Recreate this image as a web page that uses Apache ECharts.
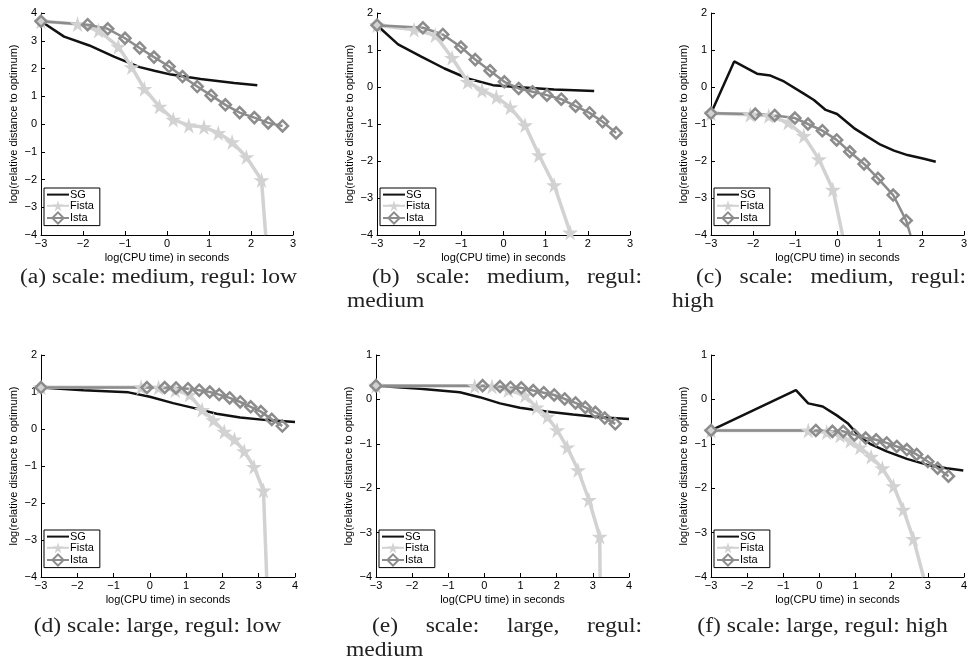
<!DOCTYPE html>
<html>
<head>
<meta charset="utf-8">
<script src="https://cdn.jsdelivr.net/npm/echarts@6/dist/echarts.min.js"></script>
<style>
html, body { margin: 0; background: #fff; }
#main { width: 978px; height: 662px; }
</style>
</head>
<body>
<div id="main"></div>
<script>
// values, [log cpu time, log relative distance]
var aSG = [[-3,3.7],[-2.45,3.15],[-1.85,2.83],[-1.25,2.42],[-0.65,2.05],[-0.3,1.92],[0.1,1.78],[0.8,1.62],[1.6,1.48],[2.15,1.4]];
var aFista = [[-3,3.7],[-2.13,3.6],[-1.63,3.37],[-1.16,2.79],[-0.84,2.05],[-0.54,1.27],[-0.18,0.63],[0.15,0.16],[0.52,-0.05],[0.88,-0.11],[1.22,-0.32],[1.55,-0.65],[1.89,-1.19],[2.25,-2.02],[2.35,-4]];
var aIsta = [[-3,3.7],[-1.89,3.58],[-1.41,3.43],[-1,3.09],[-0.65,2.74],[-0.31,2.41],[0.05,2.07],[0.37,1.71],[0.72,1.35],[1.05,1.03],[1.39,0.69],[1.73,0.41],[2.08,0.23],[2.41,0.04],[2.75,-0.07]];

var bSG = [[-3,1.67],[-2.5,1.15],[-1.95,0.82],[-1.4,0.5],[-0.85,0.23],[-0.25,0.05],[0.4,-0.01],[1.2,-0.07],[2.15,-0.11]];
var bFista = [[-3,1.67],[-2.12,1.55],[-1.62,1.4],[-1.22,0.79],[-0.85,0.14],[-0.51,-0.09],[-0.17,-0.27],[0.16,-0.55],[0.51,-1.03],[0.84,-1.84],[1.2,-2.65],[1.58,-3.93]];
var bIsta = [[-3,1.67],[-1.91,1.6],[-1.44,1.42],[-1.01,1.08],[-0.67,0.74],[-0.32,0.44],[0.02,0.14],[0.36,-0.04],[0.69,-0.13],[1.03,-0.22],[1.37,-0.33],[1.71,-0.52],[2.04,-0.7],[2.35,-0.94],[2.67,-1.24]];

var cSG = [[-3,-0.71],[-2.45,0.69],[-1.91,0.36],[-1.59,0.31],[-1.27,0.15],[-0.8,-0.18],[-0.56,-0.35],[-0.28,-0.62],[-0.01,-0.73],[0.39,-1.11],[0.71,-1.34],[1.02,-1.56],[1.34,-1.72],[1.66,-1.84],[2.05,-1.94],[2.33,-2.02]];
var cFista = [[-3,-0.71],[-2.07,-0.75],[-1.63,-0.78],[-1.17,-0.96],[-0.8,-1.32],[-0.44,-1.95],[-0.11,-2.77],[0.12,-4]];
var cIsta = [[-3,-0.71],[-1.95,-0.73],[-1.49,-0.77],[-1.01,-0.84],[-0.7,-1.0],[-0.36,-1.18],[-0.02,-1.43],[0.29,-1.75],[0.63,-2.08],[0.96,-2.47],[1.32,-2.92],[1.63,-3.61],[1.73,-4]];

var dSG = [[-3,1.12],[-1.83,1.05],[-0.59,0.99],[0,0.87],[0.64,0.7],[1.28,0.55],[1.84,0.41],[2.49,0.31],[3.22,0.24],[4,0.19]];
var dFista = [[-3,1.13],[-0.24,1.13],[0.24,1.12],[0.7,1.05],[1.09,0.93],[1.44,0.52],[1.75,0.24],[2.05,-0.07],[2.33,-0.28],[2.6,-0.6],[2.87,-1.02],[3.13,-1.66],[3.22,-4]];
var dIsta = [[-3,1.12],[-0.08,1.12],[0.41,1.12],[0.72,1.11],[1.05,1.09],[1.36,1.05],[1.65,1.0],[1.91,0.93],[2.2,0.84],[2.49,0.73],[2.78,0.6],[3.06,0.47],[3.36,0.26],[3.65,0.08]];

var eSG = [[-3,0.31],[-1.78,0.24],[-0.68,0.16],[-0.13,0.05],[0.43,-0.09],[0.98,-0.19],[1.71,-0.27],[2.45,-0.34],[3.19,-0.4],[4,-0.44]];
var eFista = [[-3,0.31],[-0.27,0.3],[0.21,0.29],[0.66,0.21],[1.12,0.09],[1.44,-0.18],[1.74,-0.39],[2.01,-0.69],[2.29,-1.08],[2.59,-1.59],[2.89,-2.26],[3.19,-3.09],[3.2,-4]];
var eIsta = [[-3,0.31],[-0.05,0.31],[0.43,0.29],[0.72,0.27],[1.02,0.26],[1.35,0.2],[1.64,0.15],[1.93,0.1],[2.22,0.01],[2.52,-0.08],[2.79,-0.18],[3.07,-0.29],[3.33,-0.42],[3.62,-0.55]];

var fSG = [[-3,-0.7],[-0.65,0.21],[-0.31,-0.09],[0.09,-0.16],[0.48,-0.36],[0.8,-0.55],[1.11,-0.84],[1.4,-1.0],[1.86,-1.17],[2.42,-1.34],[2.97,-1.47],[3.52,-1.55],[3.98,-1.6]];
var fFista = [[-3,-0.7],[-0.31,-0.7],[0.2,-0.74],[0.57,-0.81],[0.85,-0.93],[1.12,-1.08],[1.43,-1.29],[1.74,-1.55],[2.05,-1.95],[2.32,-2.48],[2.6,-3.14],[2.88,-4]];
var fIsta = [[-3,-0.7],[-0.1,-0.7],[0.36,-0.72],[0.66,-0.72],[0.97,-0.8],[1.28,-0.87],[1.57,-0.91],[1.86,-0.98],[2.14,-1.06],[2.42,-1.13],[2.69,-1.24],[3.0,-1.4],[3.27,-1.55],[3.57,-1.73]];

var seriesNames = ['SG', 'Fista', 'Ista'];
var yMaxes = [4, 2, 2, 2, 1, 1];
var xMaxes = [3, 3, 3, 4, 4, 4];
var captions = [
    ['(a) scale: medium, regul: low'],
    ['(b) scale: medium, regul:', 'medium'],
    ['(c) scale: medium, regul:', 'high'],
    ['(d) scale: large, regul: low'],
    ['(e) scale: large, regul:', 'medium'],
    ['(f) scale: large, regul: high']
];

var panelData = [
    [aSG, aFista, aIsta], [bSG, bFista, bIsta], [cSG, cFista, cIsta],
    [dSG, dFista, dIsta], [eSG, eFista, eIsta], [fSG, fFista, fIsta]
];

var SANS = '"Liberation Sans", Arial, sans-serif';
var SERIF = '"Liberation Serif", "Times New Roman", serif';
var CAP_SIZE = 20;
var STAR = 'path://M50,0 L61,35 L98,35 L68,57 L79,91 L50,70 L21,91 L32,57 L2,35 L39,35 Z';
var Y_MIN = -4, X_MIN = -3;

// plot boxes
var grids = [
    {left: 41, top: 13, width: 252, height: 222},
    {left: 377, top: 13, width: 253, height: 222},
    {left: 711, top: 13, width: 253, height: 222},
    {left: 41, top: 355, width: 254, height: 222},
    {left: 376, top: 355, width: 253, height: 222},
    {left: 711, top: 355, width: 253, height: 222}
];

function minus(v) {
    return v < 0 ? '\u2212' + (-v) : String(v);
}

var option = {
    backgroundColor: '#fff',
    animation: false,
    grid: [], xAxis: [], yAxis: [], legend: [], series: [], graphic: []
};

grids.forEach(function (g, i) {
    option.grid.push({left: g.left, top: g.top, width: g.width, height: g.height});
    option.xAxis.push({
        type: 'value', gridIndex: i, min: X_MIN, max: xMaxes[i], interval: 1,
        name: 'log(CPU time) in seconds', nameLocation: 'middle', nameGap: 17,
        nameTextStyle: {fontFamily: SANS, fontSize: 11, color: '#000'},
        axisLine: {onZero: false, lineStyle: {color: '#000', width: 1}},
        axisTick: {inside: true, length: 4, lineStyle: {color: '#000'}},
        axisLabel: {formatter: minus, fontFamily: SANS, fontSize: 11, color: '#000', margin: 3},
        splitLine: {show: false}
    });
    option.yAxis.push({
        type: 'value', gridIndex: i, min: Y_MIN, max: yMaxes[i], interval: 1,
        name: 'log(relative distance to optimum)', nameLocation: 'middle', nameGap: 22,
        nameTextStyle: {fontFamily: SANS, fontSize: 11, color: '#000'},
        axisLine: {show: true, onZero: false, lineStyle: {color: '#000', width: 1}},
        axisTick: {show: true, inside: true, length: 4, lineStyle: {color: '#000'}},
        axisLabel: {formatter: minus, fontFamily: SANS, fontSize: 11, color: '#000', margin: 4},
        splitLine: {show: false}
    });
    option.legend.push({
        orient: 'vertical', left: g.left + 3, top: g.top + g.height - 47,
        data: seriesNames, selectedMode: false,
        itemWidth: 22, itemHeight: 14, itemGap: 0,
        padding: [1, 6, 1, 2],
        borderColor: '#000', borderWidth: 1, borderRadius: 0, backgroundColor: '#fff',
        textStyle: {fontFamily: SANS, fontSize: 11, color: '#000', padding: [0, 0, 0, -4]}
    });

    var d = panelData[i];
    function pts(arr) {
        return arr.map(function (p) {
            return p[1] <= Y_MIN ? {value: p, symbol: 'none'} : p;
        });
    }
    // SG has no markers; transparent symbol keeps the legend icon a plain line
    option.series.push({
        name: 'SG', type: 'line', xAxisIndex: i, yAxisIndex: i, data: d[0],
        symbol: 'circle', showSymbol: false,
        lineStyle: {color: '#111', width: 2.5}, itemStyle: {color: 'rgba(0,0,0,0)'},
        emphasis: {disabled: true}
    });
    option.series.push({
        name: 'Fista', type: 'line', xAxisIndex: i, yAxisIndex: i, data: pts(d[1]),
        symbol: STAR, symbolSize: 16, showAllSymbol: true,
        lineStyle: {color: '#d2d2d2', width: 3.5}, itemStyle: {color: '#d2d2d2'},
        emphasis: {disabled: true}
    });
    option.series.push({
        name: 'Ista', type: 'line', xAxisIndex: i, yAxisIndex: i, data: pts(d[2]),
        symbol: 'diamond', symbolSize: 11, showAllSymbol: true,
        lineStyle: {color: '#8c8c8c', width: 2.5},
        itemStyle: {color: 'rgba(255,255,255,0)', borderColor: '#8c8c8c', borderWidth: 2.5},
        emphasis: {disabled: true}
    });
});

// captions below each panel (Computer Modern is wider than Times, so stretch a bit)
var ctx = document.createElement('canvas').getContext('2d');
ctx.font = CAP_SIZE + 'px ' + SERIF;
var capBoxes = [
    {left: 20, right: 297, y: 278},
    {left: 372, right: 642, indent: 347, y: 278},
    {left: 696, right: 966, indent: 672, y: 278},
    {left: 30, right: 285, y: 627},
    {left: 372, right: 642, indent: 346, y: 627},
    {left: 690, right: 955, y: 627}
];
var stretch = (capBoxes[0].right - capBoxes[0].left) / ctx.measureText(captions[0][0]).width;

function capText(str, x, y) {
    return {type: 'text', x: x, y: y, scaleX: stretch,
        style: {text: str, font: CAP_SIZE + 'px ' + SERIF, fill: '#222', textVerticalAlign: 'middle'}};
}

captions.forEach(function (lines, i) {
    var box = capBoxes[i];
    if (!lines[1]) {
        var w = ctx.measureText(lines[0]).width * stretch;
        option.graphic.push(capText(lines[0], (box.left + box.right) / 2 - w / 2, box.y));
        return;
    }
    var words = lines[0].split(' ');
    var widths = words.map(function (s) { return ctx.measureText(s).width * stretch; });
    var total = widths.reduce(function (s, v) { return s + v; }, 0);
    var gap = (box.right - box.left - total) / (words.length - 1);
    var x = box.left;
    words.forEach(function (s, k) {
        option.graphic.push(capText(s, x, box.y));
        x += widths[k] + gap;
    });
    option.graphic.push(capText(lines[1], box.indent, box.y + 24));
});

var chart = echarts.init(document.getElementById('main'));
chart.setOption(option);
window.addEventListener('resize', function () {
    chart.resize();
});
</script>
</body>
</html>
